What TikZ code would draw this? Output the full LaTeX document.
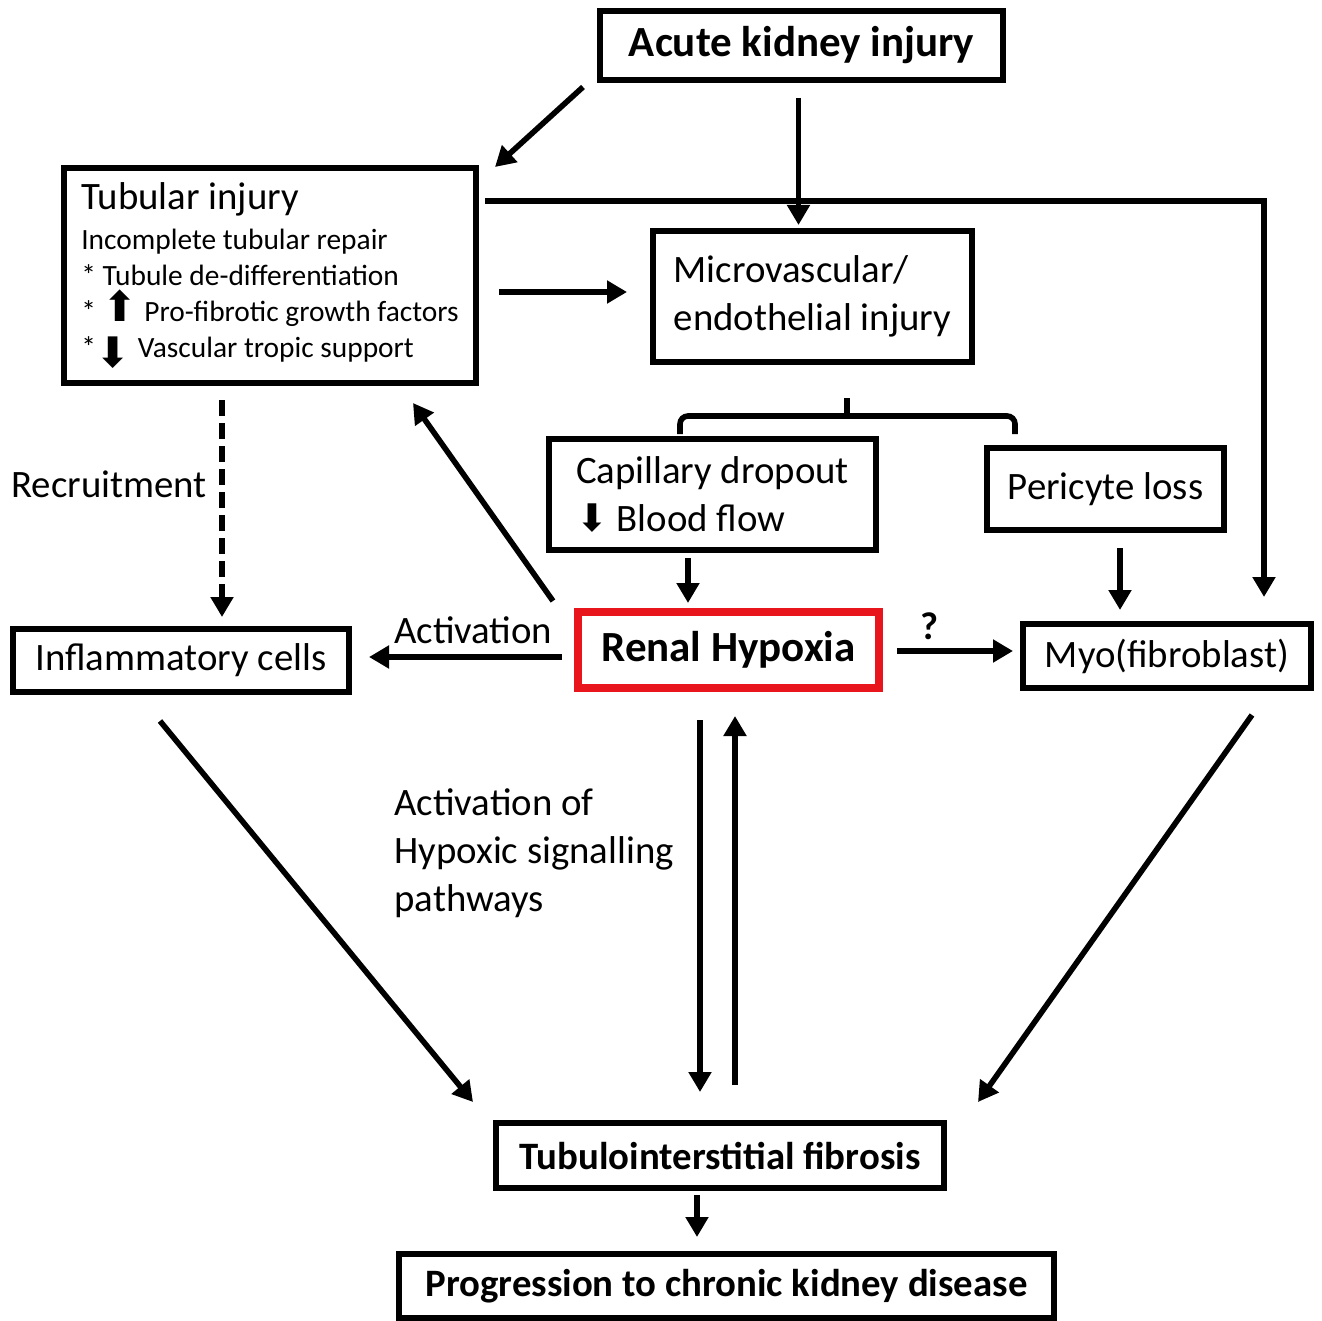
\documentclass[tikz,border=0pt]{standalone}
\usepackage{fontspec}
\setmainfont{Carlito}
\newfontfamily\arrowfont{DejaVu Sans}
\usetikzlibrary{arrows.meta}
\usetikzlibrary{positioning}
\definecolor{hypoxiared}{RGB}{232,22,28}
\tikzset {
  % plain step of the pathway
  stage/.style = {
    draw = black,
    line width = 3pt,
    inner sep = 0pt,
    font = \fontsize{19.4}{24}\selectfont
  },
  % step with a bold title
  keystage/.style = {
    stage,
    font = \fontsize{19.4}{24}\selectfont\bfseries
  },
  % the central step
  hypoxia/.style = {
    keystage,
    draw = hypoxiared,
    line width = 4pt,
    font = \fontsize{21.5}{24}\selectfont\bfseries
  },
  % free text beside a connector
  note/.style = {
    inner sep = 0pt,
    font = \fontsize{19.4}{24}\selectfont
  }
}
\tikzset {
  % connector with a filled head
  arr/.style = {
    draw = black,
    line width = 2.8pt,
    -{Triangle[length=10pt, width=11pt]}
  },
  % connector with no head
  narr/.style = {
    draw = black,
    line width = 2.8pt
  },
  % dashed connector
  darr/.style = {
    arr,
    line width = 3.2pt,
    dash pattern = on 8pt off 3.5pt
  }
}

\begin{document}
\begin{tikzpicture}[x=0.5pt, y=-0.5pt]
    \useasboundingbox (0,0) rectangle (1322,1321);

    \node[keystage, font=\fontsize{21.5}{24}\selectfont\bfseries,
      minimum width=201.5pt, minimum height=34.5pt] (aki) at (801.5,45.5)
      {Acute kidney injury};
    \node[stage, font=\fontsize{14.7}{18}\selectfont, align=left,
      minimum width=206pt, minimum height=107.5pt] (tub) at (270,275.5)
      {{\fontsize{19.4}{18}\selectfont Tubular injury}\\[2pt]
       Incomplete tubular repair\\
       * Tubule de-differentiation\\
       * {\arrowfont\fontsize{21}{18}\selectfont ⬆}\ Pro-fibrotic growth factors\\
       *\raisebox{-5pt}{\arrowfont\fontsize{21}{18}\selectfont ⬇}\ Vascular tropic support};
    \node[stage, align=left, minimum width=159.5pt, minimum height=65.5pt]
      (micro) at (812.5,296.5) {Microvascular/\\endothelial injury};
    \node[stage, align=left, minimum width=163.5pt, minimum height=55.5pt]
      (cap) at (712.5,494.5)
      {Capillary dropout\\{\arrowfont\fontsize{19}{18}\selectfont ⬇}\ Blood flow};
    \node[stage, minimum width=118.5pt, minimum height=41pt] (peri)
      at (1105.5,489) {Pericyte loss};
    \node[stage, minimum width=168pt, minimum height=31.5pt] (infl)
      at (181,660.5) {Inflammatory cells};
    \node[hypoxia, minimum width=150.5pt, minimum height=38pt] (hyp)
      at (728.5,650) {Renal Hypoxia};
    \node[stage, minimum width=144pt, minimum height=32pt] (myo)
      at (1167,656) {Myo(fibroblast)};
    \node[keystage, minimum width=224pt, minimum height=32.5pt] (fib)
      at (720,1155.5) {Tubulointerstitial fibrosis};
    \node[keystage, minimum width=327.5pt, minimum height=32pt] (ckd)
      at (726.5,1286) {Progression to chronic kidney disease};
    \node[note, align=left, anchor=west] (signal) at (394,853)
      {Activation of\\Hypoxic signalling\\pathways};

    \draw[arr] ([shift={(-14,4)}]aki.south west)
    -- ([shift={(16,2)}]tub.north east);

    \draw[arr] ([shift={(-3,15)}]aki.south)
    -- ([shift={(-14,-3)}]micro.north);

    \draw[arr] ([shift={(6,36)}]tub.north east)
    -| ([shift={(-50,-24)}]myo.north east);

    \draw[arr] ([shift={(20,16.5)}]tub.east)
    -- ([shift={(-23,-4.5)}]micro.west);

    % bracket from the microvascular injury to its two results
    \coordinate (split) at ([shift={(34.5,51)}]micro.south);
    \draw[narr] ([shift={(34.5,33)}]micro.south) -- (split);
    \draw[narr, rounded corners=4pt] ([shift={(-32.5,-2)}]cap.north)
    |- (split)
    -| ([shift={(-90.5,-11)}]peri.north);

    \draw[arr] ([shift={(-24.5,5)}]cap.south)
    -- ([shift={(-40.5,-5)}]hyp.north);

    \draw[arr] ([shift={(14.5,15)}]peri.south)
    -- ([shift={(-47,-11)}]myo.north);

    \draw[arr] ([shift={(-21,-7)}]hyp.north west)
    -- ([shift={(-66,17)}]tub.south east);

    \draw[arr] ([shift={(-12,7)}]hyp.west)
    -- node[note, pos=0.46, above=5pt] {Activation}
    ([shift={(17,-3.5)}]infl.east);

    \draw[arr] ([shift={(14,1)}]hyp.east)
    -- node[note, font=\fontsize{19.4}{24}\selectfont\bfseries,
      pos=0.28, above=4pt] {?}
    ([shift={(-7,-5)}]myo.west);

    \draw[darr] ([shift={(-48,14)}]tub.south)
    -- node[note, pos=0.39, left=6pt] {Recruitment}
    ([shift={(41,-9)}]infl.north);

    \draw[arr] ([shift={(-21,26)}]infl.south)
    -- ([shift={(-20,-18)}]fib.north west);

    \draw[arr] ([shift={(-62,24)}]myo.south east)
    -- ([shift={(31,-18)}]fib.north east);

    \draw[arr] ([shift={(-28.5,28)}]hyp.south)
    -- ([shift={(-20,-28)}]fib.north);

    \draw[arr] ([shift={(15,-35)}]fib.north)
    -- ([shift={(6.5,24)}]hyp.south);

    \draw[arr] ([shift={(-23,4)}]fib.south)
    -- ([shift={(-29.5,-14)}]ckd.north);
  \end{tikzpicture}
\end{document}
